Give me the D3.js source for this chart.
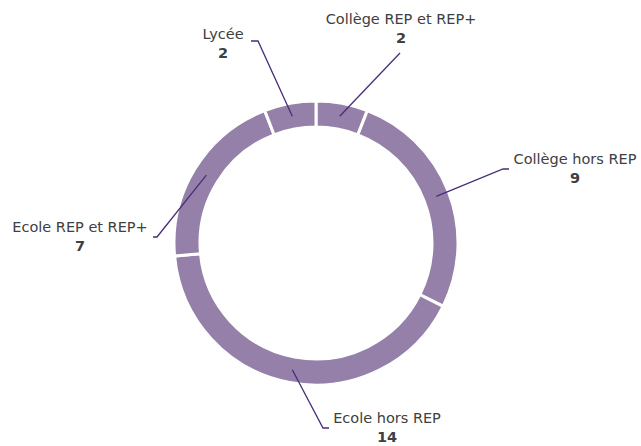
<!DOCTYPE html>
<html><head><meta charset="utf-8">
<script src="https://cdn.jsdelivr.net/npm/d3@7"></script>
<style>
html,body{margin:0;padding:0;background:#fff;}
text{font-family:"DejaVu Sans",sans-serif;}
</style></head>
<body>
<svg id="c" width="641" height="446"></svg>
<script>
const categories = ["Collège REP et REP+", "Collège hors REP", "Ecole hors REP", "Ecole REP et REP+", "Lycée"];
const values = [2, 9, 14, 7, 2];

// layout: leader elbow point, end point, label anchor
const layout = [
  {elbow:[400,53], end:[400,53], lx:401, ly:24, anchor:"middle"},
  {elbow:[503,169], end:[509,169], lx:575, ly:164, anchor:"middle"},
  {elbow:[323,428], end:[329,428], lx:387, ly:423, anchor:"middle"},
  {elbow:[157,237], end:[153,237], lx:80, ly:232, anchor:"middle"},
  {elbow:[258,41], end:[251,41], lx:223, ly:39, anchor:"middle"}
];

const cx = 316, cy = 243, rOut = 142, rIn = 116;
const svg = d3.select("#c");
const g = svg.append("g").attr("transform", `translate(${cx},${cy})`);
const pie = d3.pie().sort(null).value(d => d)(values);
const arc = d3.arc().innerRadius(rIn).outerRadius(rOut);

g.selectAll("path.s").data(pie).enter().append("path")
  .attr("d", arc).attr("fill", "#9480a9")
  .attr("stroke", "#fff").attr("stroke-width", 3);

pie.forEach((p, i) => {
  const c = arc.centroid(p);
  const L = layout[i];
  const pts = [[c[0]+cx, c[1]+cy], L.elbow, L.end];
  svg.append("path").attr("d", d3.line()(pts))
    .attr("fill", "none").attr("stroke", "#4a2d7a").attr("stroke-width", 1.3);
  svg.append("text").attr("x", L.lx).attr("y", L.ly)
    .attr("text-anchor", L.anchor).attr("font-size", 14.5).attr("fill", "#404040")
    .text(categories[i]);
  svg.append("text").attr("x", L.lx).attr("y", L.ly + 19)
    .attr("text-anchor", L.anchor).attr("font-size", 14.5).attr("font-weight", "bold").attr("fill", "#404040")
    .text(values[i]);
});
</script>
</body></html>
